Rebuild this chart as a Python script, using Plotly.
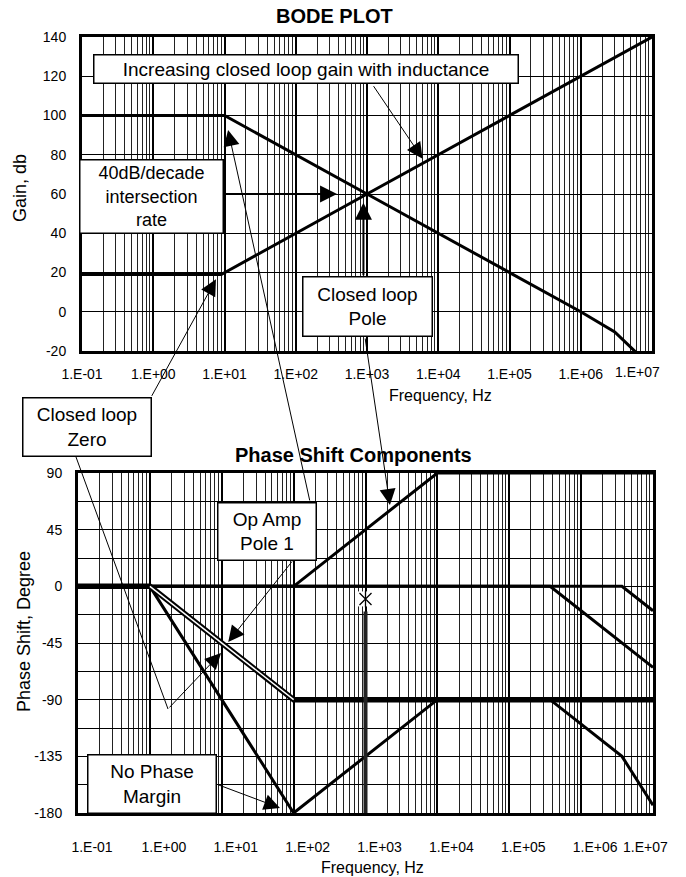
import numpy as np
import plotly.graph_objects as go

W, H = 686, 877
FONT = "Liberation Sans, Arial, sans-serif"

# ---------------- data ----------------
# Gain plot (dB vs Hz)
f_openloop = [0.1, 10, 1e3, 1e6, 3.0e6, 3.9e6, 6.3e6]
g_openloop = [100, 100, 60, 0, -10.3, -14.4, -21.5]

f_closedloop = [0.1, 9, 1e3, 1e7]
g_closedloop = [19, 19, 60, 140]

# Phase components (degrees vs Hz)
f_pole1 = [0.1, 1, 100, 1e7]
ph_pole1 = [0, 0, -90, -90]

f_clpole = [0.1, 100, 1e4, 1e7]
ph_clpole = [0, 0, 90, 90]

f_pole2 = [0.1, 3.7e5, 1e7]
ph_pole2 = [0, 0, -64.4]

f_pole3 = [0.1, 3.7e6, 1e7]
ph_pole3 = [0, 0, -19.4]

f_total = [0.1, 1, 100, 1e4, 3.7e5, 1e6, 3.7e6, 1e7]
ph_total = [0, 0, -180, -90, -90, -109.4, -135, -173.8]

f_crossover = [1e3]
ph_crossover_mark = [-10]
ph_crossover_bar = [-20, -180]

decade_vals = [0.1, 1, 10, 100, 1e3, 1e4, 1e5, 1e6, 1e7]
decade_text = ["1.E-01", "1.E+00", "1.E+01", "1.E+02", "1.E+03",
               "1.E+04", "1.E+05", "1.E+06", ""]
gain_ticks = list(range(-20, 141, 20))
phase_grid = [-180, -157.5, -135, -112.5, -90, -67.5, -45, -22.5, 0, 22.5, 45, 67.5, 90]
phase_text = ["-180", "", "-135", "", "-90", "", "-45", "", "0", "", "45", "", "90"]


def px(x):
    return x / W


def py(y):
    return 1 - y / H


fig = go.Figure()

LW = 3
# top plot curves
fig.add_trace(go.Scatter(x=f_openloop, y=g_openloop, mode="lines",
                         line=dict(color="black", width=LW), xaxis="x", yaxis="y"))
fig.add_trace(go.Scatter(x=f_closedloop, y=g_closedloop, mode="lines",
                         line=dict(color="black", width=LW), xaxis="x", yaxis="y"))

# bottom plot curves
for fx, fy in [(f_clpole, ph_clpole), (f_pole2, ph_pole2), (f_pole3, ph_pole3),
               (f_total, ph_total)]:
    fig.add_trace(go.Scatter(x=fx, y=fy, mode="lines",
                             line=dict(color="black", width=LW), xaxis="x2", yaxis="y2"))
# op amp pole 1, drawn as a double line on its sloped part
fig.add_trace(go.Scatter(x=f_pole1, y=ph_pole1, mode="lines",
                         line=dict(color="black", width=5.5), xaxis="x2", yaxis="y2"))
fig.add_trace(go.Scatter(x=f_pole1[1:3], y=ph_pole1[1:3], mode="lines",
                         line=dict(color="white", width=1.4), xaxis="x2", yaxis="y2"))

# crossover marker and bar
fig.add_trace(go.Scatter(x=f_crossover * 2, y=ph_crossover_bar, mode="lines",
                         line=dict(color="#222", width=4), xaxis="x2", yaxis="y2"))
fig.add_trace(go.Scatter(x=f_crossover, y=ph_crossover_mark, mode="markers",
                         marker=dict(symbol="square", size=15, color="white"),
                         xaxis="x2", yaxis="y2"))
for sym in ["x-thin-open", "line-ns-open"]:
    fig.add_trace(go.Scatter(x=f_crossover, y=ph_crossover_mark, mode="markers",
                             marker=dict(symbol=sym, size=12, color="black",
                                         line=dict(color="black", width=1.3)),
                             xaxis="x2", yaxis="y2"))

tickfont = dict(family=FONT, size=14, color="black")


def xaxis_cfg(domain, anchor, shift, standoff):
    return dict(type="log", range=[-1, 7], domain=domain, anchor=anchor,
                tickmode="array", tickvals=decade_vals, ticktext=decade_text,
                tickfont=tickfont, ticks="", showgrid=True, gridcolor="black", gridwidth=2,
                minor=dict(dtick="D1", showgrid=True, gridcolor="#222", gridwidth=1, ticks=""),
                showline=True, linecolor="black", linewidth=3, mirror=True,
                zeroline=False, ticklabelshift=shift, ticklabelstandoff=standoff,
                automargin=False, fixedrange=True)


def yaxis_cfg(rng, domain, anchor, vals, texts):
    return dict(range=rng, domain=domain, anchor=anchor, tickmode="array",
                tickvals=vals, ticktext=texts, tickfont=tickfont, ticks="",
                showgrid=True, gridcolor="black", gridwidth=1.3,
                showline=True, linecolor="black", linewidth=3, mirror=True,
                zeroline=False, ticklabelstandoff=10, automargin=False, fixedrange=True)


fig.update_layout(
    width=W, height=H, margin=dict(l=0, r=0, t=0, b=0, autoexpand=False),
    paper_bgcolor="white", plot_bgcolor="white", showlegend=False,
    font=dict(family=FONT, color="black"),
    xaxis=xaxis_cfg([px(82), px(652)], "y", 0, 8),
    yaxis=yaxis_cfg([-20, 140], [py(351), py(37)], "x", gain_ticks,
                    [str(v) for v in gain_ticks]),
    xaxis2=xaxis_cfg([px(78), px(653)], "y2", 14, 19),
    yaxis2=yaxis_cfg([-180, 90], [py(813), py(473)], "x2", phase_grid, phase_text),
)

ann = []


def text(t, x, y, size, bold=False, angle=0, xanchor="center"):
    ann.append(dict(text=f"<b>{t}</b>" if bold else t, x=x, y=y, xref="paper", yref="paper",
                    showarrow=False, textangle=angle, xanchor=xanchor, yanchor="middle",
                    font=dict(family=FONT, size=size, color="black")))


text("BODE PLOT", px(334), py(16), 20, bold=True)
text("Phase Shift Components", px(353), py(455), 20, bold=True)
text("Gain, db", px(20), py(188), 18, angle=-90)
text("Phase Shift, Degree", px(24), py(632), 18, angle=-90)
text("Frequency, Hz", px(440), py(396), 16)
text("Frequency, Hz", px(372), py(867), 16)

# last decade labels, pulled inside the frame
ann.append(dict(text="1.E+07", x=7, xref="x", y=-20, yref="y", xshift=-15, yshift=-21,
                yanchor="middle", showarrow=False, font=tickfont))
ann.append(dict(text="1.E+07", x=7, xref="x2", y=-180, yref="y2", xshift=-8, yshift=-34,
                yanchor="middle", showarrow=False, font=tickfont))


def box(t, x0, y0, x1, y1, size=18):
    ann.append(dict(text=t, x=px((x0 + x1) / 2), y=py((y0 + y1) / 2), xref="paper", yref="paper",
                    showarrow=False, xanchor="center", yanchor="middle",
                    width=x1 - x0 - 2, height=y1 - y0 - 2, borderpad=0,
                    bgcolor="white", bordercolor="black", borderwidth=1.5,
                    font=dict(family=FONT, size=size, color="black")))


box("Increasing closed loop gain with inductance", 93, 55, 518, 84, 19)
box("40dB/decade<br>intersection<br>rate", 79, 159, 223, 233)
box("Closed loop<br>Pole", 302, 277, 432, 337, 19)
box("Closed loop<br>Zero", 22, 397, 151, 456, 19)
box("Op Amp<br>Pole 1", 217, 502, 316, 560, 19)
box("No Phase<br>Margin", 87, 754, 216, 813, 19)


def arrow(x, y, ax, ay, xr, yr, width=1, size=3.2):
    ann.append(dict(text="", x=x, y=y, xref=xr, yref=yr, ax=ax, ay=ay,
                    showarrow=True, arrowhead=2, arrowsize=size, arrowwidth=width,
                    arrowcolor="black", standoff=0, startstandoff=0))


arrow(3.78, 78, -50, -74, "x", "y")            # increasing gain
arrow(2.58, 60, -114, 0, "x", "y", 2, 1.7)      # 40 dB/decade
arrow(2.95, 55.5, 0, 74, "x", "y", 2, 1.7)      # closed loop pole (gain)
arrow(0.88, 16.5, -65, 118, "x", "y")           # closed loop zero (gain)
arrow(1.05, 92.6, 82, 372, "x", "y")            # op amp pole 1 (gain)
arrow(1.09, -44.2, 65, -82, "x2", "y2")         # op amp pole 1 (phase)
arrow(0.99, -52.9, -53, 56, "x2", "y2")         # closed loop zero (phase)
arrow(3.34, 64.6, -25, -168, "x2", "y2")        # closed loop pole (phase)
arrow(1.81, -176, -64, -24, "x2", "y2")         # no phase margin

fig.update_layout(annotations=ann)

# leader line of the closed loop zero callout
fig.add_shape(type="line", xref="paper", yref="paper",
              x0=px(76), y0=py(457), x1=px(168), y1=py(709),
              line=dict(color="black", width=1))

fig.write_html("out.html")
